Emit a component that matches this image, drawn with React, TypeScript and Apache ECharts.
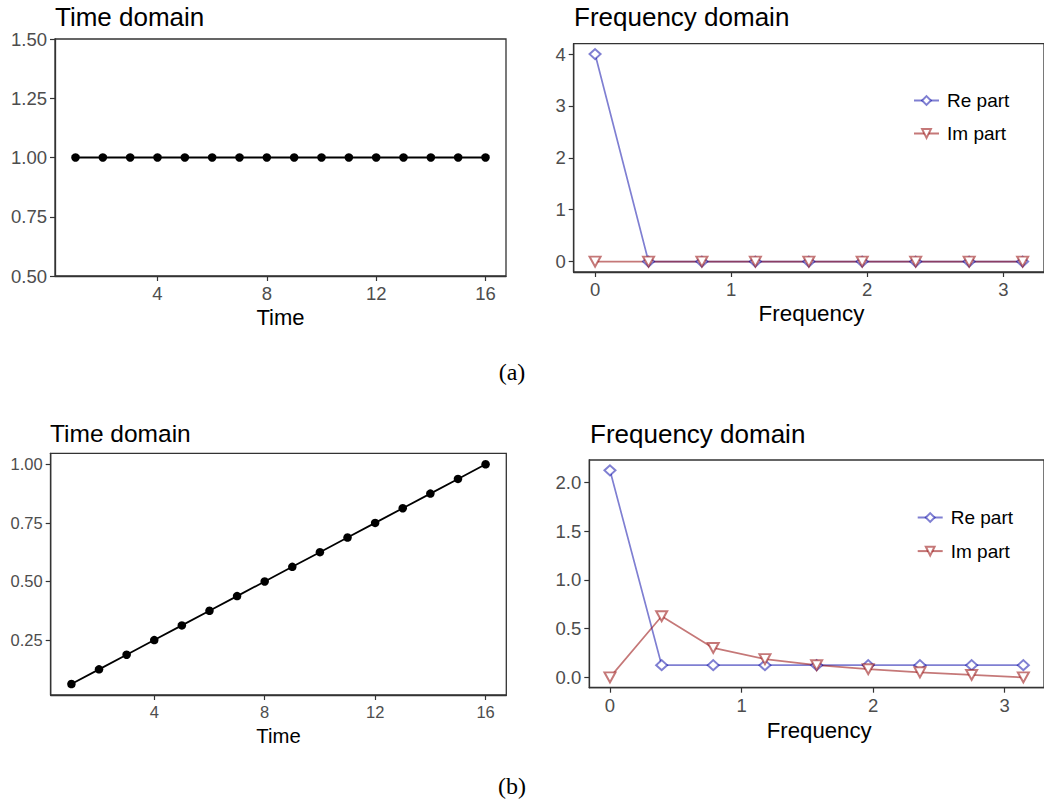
import React, { useEffect, useRef } from "react";
import * as echarts from "echarts";

const times = [1, 2, 3, 4, 5, 6, 7, 8, 9, 10, 11, 12, 13, 14, 15, 16];
const constSignal = [1, 1, 1, 1, 1, 1, 1, 1, 1, 1, 1, 1, 1, 1, 1, 1];
const rampSignal = [0.0625, 0.125, 0.1875, 0.25, 0.3125, 0.375, 0.4375, 0.5, 0.5625, 0.625, 0.6875, 0.75, 0.8125, 0.875, 0.9375, 1.0];
const freqs = [0, 0.393, 0.785, 1.178, 1.571, 1.963, 2.356, 2.749, 3.142];
const reA = [4, 0, 0, 0, 0, 0, 0, 0, 0];
const imA = [0, 0, 0, 0, 0, 0, 0, 0, 0];
const reB = [2.125, 0.125, 0.125, 0.125, 0.125, 0.125, 0.125, 0.125, 0.125];
const imB = [0, 0.628, 0.302, 0.187, 0.125, 0.084, 0.052, 0.025, 0];

const timeTicks = [4, 8, 12, 16];
const yTicksA = [0.5, 0.75, 1.0, 1.25, 1.5];
const yTicksB = [0.25, 0.5, 0.75, 1.0];
const freqTicks = [0, 1, 2, 3];
const fyTicksA = [0, 1, 2, 3, 4];
const fyTicksB = [0, 0.5, 1.0, 1.5, 2.0];
const legendNames = ["Re part", "Im part"];

const FONT = "'Liberation Sans', Arial, Helvetica, sans-serif";
const SERIF = "'Liberation Serif', 'DejaVu Serif', serif";
const RE_COLOR = "rgba(0,0,165,0.5)";
const IM_COLOR = "rgba(150,10,10,0.55)";
const LABEL_COLOR = "#4d4d4d";

function zip(xs: number[], ys: number[]) {
  return xs.map((x, i) => [x, ys[i]]);
}

function valueAxis(gridIndex: number, min: number, max: number, ticks: number[], fmt: (v: number) => string, fontSize: number) {
  return {
    type: "value",
    gridIndex,
    min,
    max,
    splitLine: { show: false },
    axisLine: { show: true, onZero: false, lineStyle: { color: "#333", width: 1.3 } },
    axisTick: { show: true, length: 5, lineStyle: { color: "#333", width: 1.2 }, customValues: ticks },
    axisLabel: { show: true, color: LABEL_COLOR, fontSize, fontFamily: FONT, margin: 8, customValues: ticks, formatter: fmt },
  };
}

export default function App() {
  const ref = useRef<HTMLDivElement>(null);
  useEffect(() => {
    if (!ref.current) return;
    const chart = echarts.init(ref.current, null, { renderer: "svg" });
    const gridStyle = { show: true, borderColor: "#333", borderWidth: 1.3, backgroundColor: "#fff", containLabel: false };
    const f0 = (v: number) => String(v);
    const f1 = (v: number) => v.toFixed(1);
    const f2 = (v: number) => v.toFixed(2);
    const timeLine = (xi: number, data: number[][]) => ({
      type: "line",
      xAxisIndex: xi,
      yAxisIndex: xi,
      data,
      symbol: "circle",
      symbolSize: 8.5,
      lineStyle: { color: "#000", width: 1.8 },
      itemStyle: { color: "#000" },
      silent: true,
    });
    const freqLine = (xi: number, name: string, data: number[][], color: string, symbol: string, rotate: number) => ({
      type: "line",
      name,
      xAxisIndex: xi,
      yAxisIndex: xi,
      data,
      symbol,
      symbolSize: [11, 10],
      symbolRotate: rotate,
      lineStyle: { color, width: 1.7 },
      itemStyle: { color, borderColor: color, borderWidth: 1.2 },
      silent: true,
    });
    const text = (x: number, y: number, t: string, size: number, align = "left", family = FONT) => ({
      type: "text",
      x,
      y,
      style: { text: t, fontSize: size, fontFamily: family, fill: "#000", align, verticalAlign: "middle" },
      silent: true,
    });
    const legend = (left: number, top: number, gap: number) => ({
      left,
      top,
      orient: "vertical",
      itemGap: gap,
      itemWidth: 25,
      itemHeight: 11,
      data: legendNames,
      textStyle: { fontSize: 19, fontFamily: FONT, color: "#000", padding: [0, 0, 0, 3] },
      selectedMode: false,
    });
    chart.setOption({
      animation: false,
      backgroundColor: "#fff",
      grid: [
        { left: 55, top: 39, width: 451, height: 237, ...gridStyle },
        { left: 573.7, top: 43.7, width: 475.3, height: 228.3, ...gridStyle },
        { left: 50.7, top: 453.3, width: 455.6, height: 241.7, ...gridStyle },
        { left: 589.3, top: 460, width: 459.8, height: 227.7, ...gridStyle },
      ],
      xAxis: [
        valueAxis(0, 0.25, 16.75, timeTicks, f0, 18.5),
        valueAxis(1, -0.157, 3.299, freqTicks, f0, 18.5),
        valueAxis(2, 0.25, 16.75, timeTicks, f0, 16.5),
        valueAxis(3, -0.157, 3.299, freqTicks, f0, 18.5),
      ],
      yAxis: [
        valueAxis(0, 0.5, 1.5, yTicksA, f2, 18.5),
        valueAxis(1, -0.2, 4.2, fyTicksA, f0, 18.5),
        valueAxis(2, 0.0156, 1.0469, yTicksB, f2, 16.5),
        valueAxis(3, -0.106, 2.231, fyTicksB, f1, 18.5),
      ],
      legend: [legend(908, 86, 14), legend(911.7, 503, 14.6)],
      series: [
        timeLine(0, zip(times, constSignal)),
        freqLine(1, "Re part", zip(freqs, reA), RE_COLOR, "emptyDiamond", 0),
        freqLine(1, "Im part", zip(freqs, imA), IM_COLOR, "emptyTriangle", 180),
        timeLine(2, zip(times, rampSignal)),
        freqLine(3, "Re part", zip(freqs, reB), RE_COLOR, "emptyDiamond", 0),
        freqLine(3, "Im part", zip(freqs, imB), IM_COLOR, "emptyTriangle", 180),
      ],
      graphic: [
        text(55, 17.2, "Time domain", 26),
        text(574, 17.2, "Frequency domain", 26),
        text(50, 433.3, "Time domain", 24.5),
        text(590, 433.7, "Frequency domain", 26),
        text(280.5, 317.5, "Time", 22, "center"),
        text(811.5, 313.8, "Frequency", 22.4, "center"),
        text(278.5, 735.5, "Time", 20.3, "center"),
        text(819.2, 730, "Frequency", 22.2, "center"),
        text(512, 372, "(a)", 24, "center", SERIF),
        text(512, 786, "(b)", 24, "center", SERIF),
      ],
    });
    return () => chart.dispose();
  }, []);
  return <div ref={ref} style={{ position: "absolute", left: 0, top: 0, width: 1044, height: 805 }} />;
}
